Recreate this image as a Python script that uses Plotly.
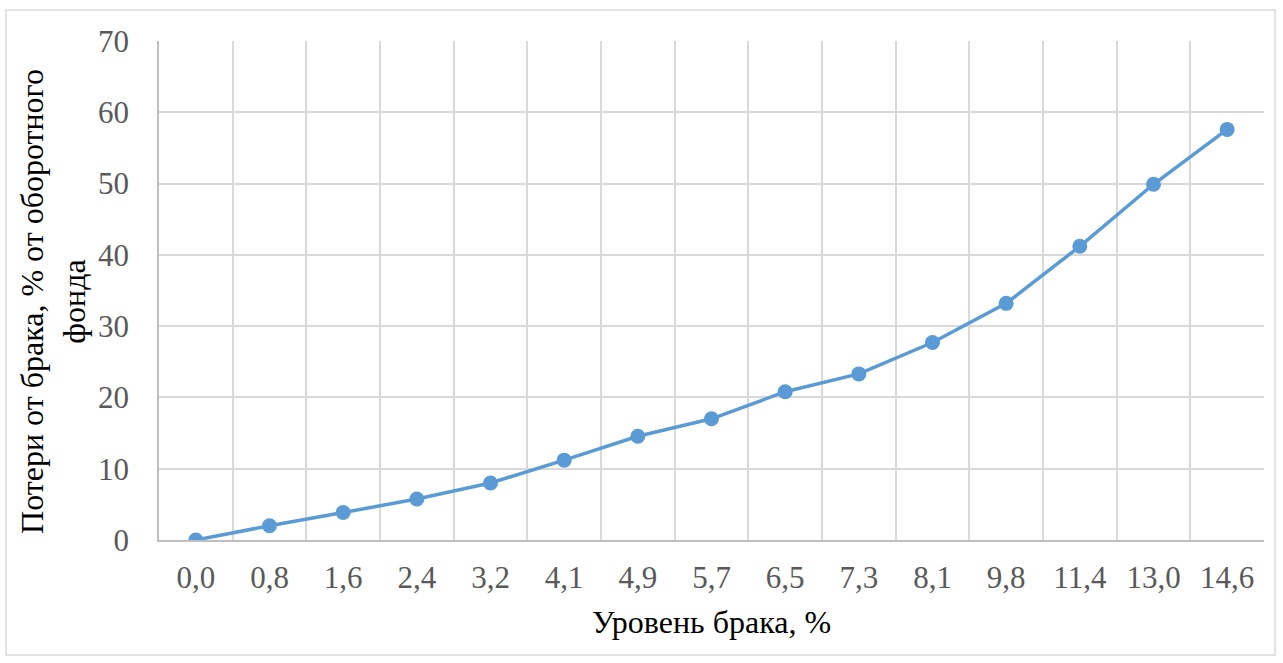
import plotly.graph_objects as go

# Уровень брака, % (category labels) and losses, % of working capital
defect_levels = ["0,0", "0,8", "1,6", "2,4", "3,2", "4,1", "4,9", "5,7",
                 "6,5", "7,3", "8,1", "9,8", "11,4", "13,0", "14,6"]
losses = [0.0, 2.0, 3.85, 5.75, 8.0, 11.2, 14.55, 17.0,
          20.8, 23.3, 27.7, 33.2, 41.2, 49.9, 57.6]

y_ticks = [0, 10, 20, 30, 40, 50, 60, 70]

FONT = "Liberation Serif, Times New Roman, serif"
LINE_COLOR = "#5B9BD5"
GRID = "#D9D9D9"
TICK_SIZE = 31
TITLE_SIZE = 32

fig = go.Figure()
fig.add_trace(go.Scatter(
    x=defect_levels, y=losses, mode="lines+markers",
    line=dict(color=LINE_COLOR, width=3.5),
    marker=dict(color=LINE_COLOR, size=15),
    hoverinfo="x+y", showlegend=False,
))

fig.update_layout(
    width=1283, height=663,
    margin=dict(l=159, r=19, t=41, b=123),
    paper_bgcolor="white", plot_bgcolor="white",
    font=dict(family=FONT, size=TICK_SIZE, color="#595959"),
    xaxis=dict(
        type="category", tickson="boundaries",
        range=[-0.5, len(defect_levels) - 0.5],
        showgrid=True, gridcolor=GRID, gridwidth=1.5,
        showline=True, linecolor="#BFBFBF", linewidth=1.5,
        ticks="", ticklabelstandoff=9,
        tickfont=dict(family=FONT, size=TICK_SIZE, color="#595959"),
        zeroline=False,
    ),
    yaxis=dict(
        range=[0, 70], tickvals=y_ticks,
        showgrid=True, gridcolor=GRID, gridwidth=1.5,
        showline=True, linecolor="#BFBFBF", linewidth=1.5,
        ticks="", ticklabelstandoff=22,
        tickfont=dict(family=FONT, size=TICK_SIZE, color="#595959"),
        zeroline=False,
    ),
    annotations=[
        dict(text="Уровень брака, %", xref="paper", yref="paper",
             x=0.5, y=-0.165, xanchor="center", yanchor="middle",
             showarrow=False, font=dict(family=FONT, size=TITLE_SIZE, color="#000000")),
        dict(text="Потери от брака, % от оборотного<br>фонда",
             xref="paper", yref="paper", x=-0.096, y=0.479,
             xanchor="center", yanchor="middle", textangle=-90,
             showarrow=False, font=dict(family=FONT, size=TITLE_SIZE, color="#000000")),
    ],
    shapes=[
        dict(type="rect", xref="paper", yref="paper",
             x0=-0.1385, x1=1.0100, y0=-0.2305, y1=1.0621,
             line=dict(color="#D9D9D9", width=1.5), fillcolor="rgba(0,0,0,0)",
             layer="below"),
    ],
)

fig.write_html("out.html")
